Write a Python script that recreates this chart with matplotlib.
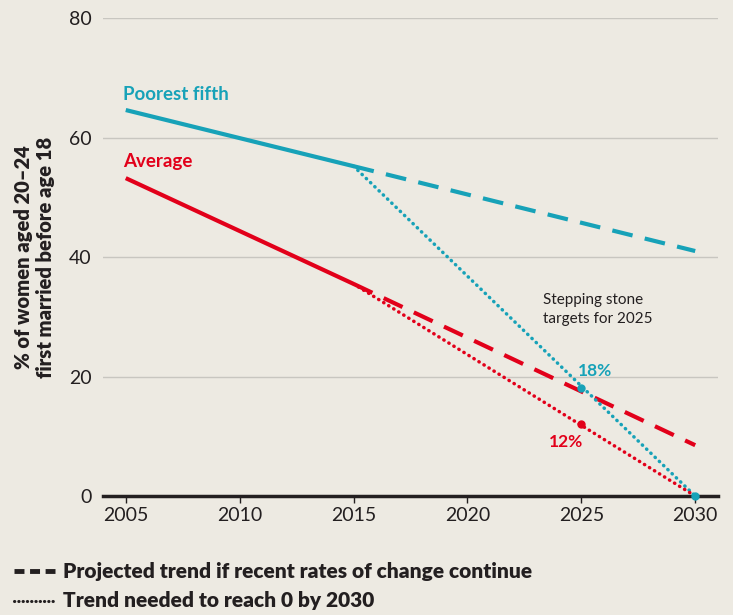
import matplotlib.pyplot as plt
from matplotlib.lines import Line2D

# dados
anos_hist = [2005, 2015]
pobres_hist = [64.6, 55.2]
media_hist = [53.2, 35.5]

anos_proj = [2015, 2030]
pobres_proj = [55.2, 41.0]
media_proj = [35.5, 8.5]

pobres_meta = [55.2, 0]
media_meta = [35.5, 0]

ano_meta = 2025
pobres_2025 = 18
media_2025 = 12

xticks = [2005, 2010, 2015, 2020, 2025, 2030]
yticks = [0, 20, 40, 60, 80]

bg = '#EDEAE2'
teal = '#17A2B8'
red = '#E2001A'
txt = '#231F20'

plt.rcParams['font.family'] = ['Lato', 'DejaVu Sans']

fig = plt.figure(figsize=(7.33, 6.15), dpi=100, facecolor=bg)
ax = fig.add_axes([0.1405, 0.1935, 0.839, 0.7772], facecolor=bg)

# linhas históricas
ax.plot(anos_hist, pobres_hist, color=teal, lw=3, solid_capstyle='butt')
ax.plot(anos_hist, media_hist, color=red, lw=3, solid_capstyle='butt')

# tendência projetada
ax.plot(anos_proj, pobres_proj, color=teal, lw=3, dashes=(5, 3))
ax.plot(anos_proj, media_proj, color=red, lw=3, dashes=(5, 3))

# tendência necessária
ax.plot(anos_proj, pobres_meta, color=teal, lw=2.5, linestyle=(0, (0.1, 1.6)), dash_capstyle='round', zorder=4)
ax.plot(anos_proj, media_meta, color=red, lw=2.5, linestyle=(0, (0.1, 1.6)), dash_capstyle='round', zorder=4)

ax.plot([ano_meta], [pobres_2025], 'o', color=teal, ms=5, zorder=5)
ax.plot([ano_meta], [media_2025], 'o', color=red, ms=5, zorder=5)
ax.plot([2030], [0], 'o', color=teal, ms=5, zorder=5, clip_on=False)

ax.text(ano_meta - 0.15, pobres_2025 + 1.6, f'{pobres_2025}%', color=teal, fontsize=12.5, fontweight='bold', va='bottom')
ax.text(ano_meta + 0.1, media_2025 - 1.6, f'{media_2025}%', color=red, fontsize=12.5, fontweight='bold', ha='right', va='top')
ax.text(2023.3, 34.0, 'Stepping stone\ntargets for 2025', color=txt, fontsize=11, linespacing=1.45, va='top')

ax.text(2004.9, 65.8, 'Poorest fifth', color=teal, fontsize=13.5, fontweight='bold', va='bottom')
ax.text(2004.9, 54.6, 'Average', color=red, fontsize=13.5, fontweight='bold', va='bottom')

ax.set_xlim(2004, 2031)
ax.set_ylim(0, 80)
ax.set_xticks(xticks)
ax.set_yticks(yticks)
ax.grid(axis='y', color='#C8C6C0', lw=1)
ax.set_axisbelow(True)
for s in ['top', 'right', 'left']:
    ax.spines[s].set_visible(False)
ax.spines['bottom'].set_linewidth(2.5)
ax.spines['bottom'].set_color(txt)
ax.tick_params(axis='y', length=0, labelsize=14, colors=txt, pad=8)
ax.tick_params(axis='x', length=5, width=1, labelsize=14, colors=txt, pad=3)

ax.set_ylabel('% of women aged 20–24\nfirst married before age 18', fontsize=14.5,
              fontweight='heavy', color=txt, labelpad=10, linespacing=1.2)

# legenda embaixo
fig.add_artist(Line2D([0.019, 0.075], [0.0715, 0.0715], color=txt, lw=3.5, dashes=(2.05, 1.15)))
fig.text(0.086, 0.0715, 'Projected trend if recent rates of change continue', fontsize=15,
         fontweight='heavy', color=txt, va='center')
fig.add_artist(Line2D([0.019, 0.077], [0.0228, 0.0228], color=txt, lw=2.2, linestyle=(0, (0.1, 1.3)), dash_capstyle='round'))
fig.text(0.086, 0.0228, 'Trend needed to reach 0 by 2030', fontsize=15,
         fontweight='heavy', color=txt, va='center')

fig.savefig('out.png', dpi=100, facecolor=bg)
